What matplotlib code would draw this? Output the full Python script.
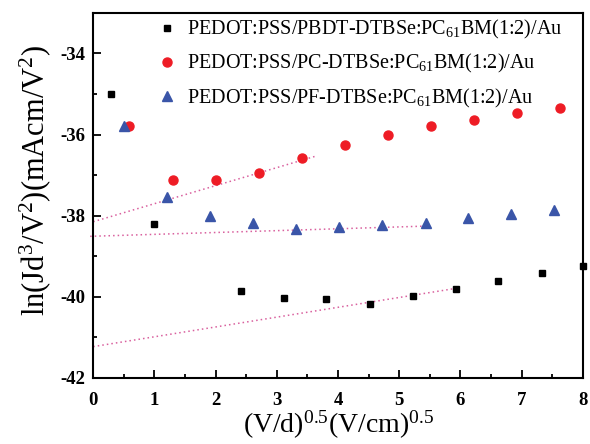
import matplotlib
matplotlib.use("Agg")
import matplotlib.pyplot as plt
from matplotlib.ticker import MultipleLocator

plt.rcParams['font.family'] = ['Liberation Serif', 'DejaVu Serif']
plt.rcParams['mathtext.fontset'] = 'custom'
plt.rcParams['mathtext.rm'] = 'Liberation Serif'
plt.rcParams['mathtext.it'] = 'Liberation Serif:italic'
plt.rcParams['mathtext.bf'] = 'Liberation Serif:bold'
plt.rcParams['axes.unicode_minus'] = False

# Data
x_pbdt = [0.29, 1.0, 2.41, 3.12, 3.81, 4.52, 5.22, 5.92, 6.62, 7.33, 8.0]
y_pbdt = [-35.01, -38.2, -39.85, -40.03, -40.05, -40.17, -39.99, -39.80, -39.61, -39.42, -39.23]

x_pc = [0.59, 1.31, 2.01, 2.71, 3.41, 4.11, 4.82, 5.51, 6.22, 6.92, 7.62]
y_pc = [-35.79, -37.12, -37.11, -36.96, -36.58, -36.27, -36.01, -35.79, -35.63, -35.48, -35.35]

x_pf = [0.5, 1.21, 1.91, 2.61, 3.31, 4.02, 4.71, 5.43, 6.12, 6.82, 7.52]
y_pf = [-35.78, -37.54, -38.0, -38.18, -38.33, -38.27, -38.24, -38.18, -38.07, -37.97, -37.86]

# Fit lines (endpoints)
fit_pbdt_x = [0.0, 5.94]
fit_pbdt_y = [-41.23, -39.79]
fit_pc_x = [0.0, 3.62]
fit_pc_y = [-38.15, -36.54]
fit_pf_x = [-0.05, 5.39]
fit_pf_y = [-38.51, -38.26]

labels = ["PEDOT:PSS/PBDT-DTBSe:PC$_{61}$BM(1:2)/Au",
          "PEDOT:PSS/PC-DTBSe:PC$_{61}$BM(1:2)/Au",
          "PEDOT:PSS/PF-DTBSe:PC$_{61}$BM(1:2)/Au"]

fig = plt.figure(figsize=(5.9, 4.44), dpi=100)
ax = fig.add_axes([0.158, 0.149, 0.830, 0.822])

fitc = '#d9609e'
for fx, fy in [(fit_pbdt_x, fit_pbdt_y), (fit_pc_x, fit_pc_y), (fit_pf_x, fit_pf_y)]:
    ax.plot(fx, fy, linestyle=(0, (1, 2)), color=fitc, lw=1.1, clip_on=False)

ax.plot(x_pbdt, y_pbdt, 's', color='black', ms=5, label=labels[0], clip_on=False, zorder=3)
ax.plot(x_pc, y_pc, 'o', color='#ee1c25', ms=6.5, label=labels[1], clip_on=False, zorder=3)
ax.plot(x_pf, y_pf, '^', color='#3a55a8', ms=7, label=labels[2], clip_on=False, zorder=3)

ax.set_xlim(0, 8)
ax.set_ylim(-42, -33)
ax.xaxis.set_major_locator(MultipleLocator(1))
ax.xaxis.set_minor_locator(MultipleLocator(0.5))
ax.yaxis.set_major_locator(MultipleLocator(2))
ax.yaxis.set_minor_locator(MultipleLocator(1))
ax.tick_params(which='both', direction='in', top=False, right=False, width=1.3)
ax.tick_params(which='major', length=6, labelsize=13.5)
ax.tick_params(axis='x', which='major', pad=10)
ax.tick_params(axis='y', which='major', pad=6)
ax.tick_params(which='minor', length=3)
for lab in ax.get_xticklabels() + ax.get_yticklabels():
    lab.set_fontweight('bold')
for s in ax.spines.values():
    s.set_linewidth(1.5)

ax.set_xlabel("(V/d)$^{0.5}$(V/cm)$^{0.5}$", fontsize=20, labelpad=0)
ax.set_ylabel("ln(Jd$^{3}$/V$^{2}$)(mAcm/V$^{2}$)", fontsize=22)
ax.yaxis.set_label_coords(-0.082, 0.54)

leg = ax.legend(loc='upper left', frameon=False, fontsize=14.5, handletextpad=0.35,
                borderaxespad=0.0, borderpad=0.0, labelspacing=0.55, handlelength=1.2,
                bbox_to_anchor=(0.127, 0.985))

fig.savefig("out.png", dpi=100)
